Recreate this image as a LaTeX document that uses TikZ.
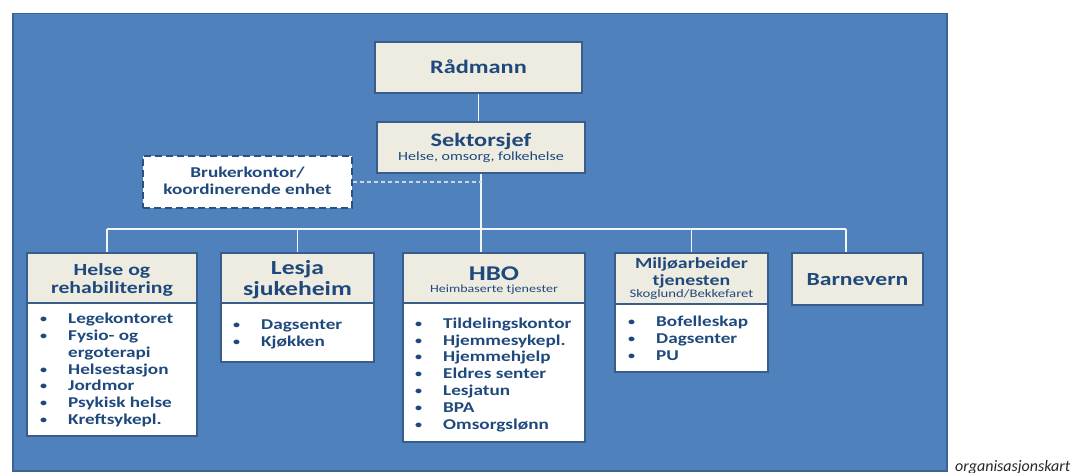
\documentclass[tikz,border=0pt]{standalone}
\usepackage{fontspec}
\setmainfont{Carlito}[FakeStretch=1.28, UprightFont=*, BoldFont=* Bold, ItalicFont=* Italic]
\newfontfamily\capfont{Carlito}[ItalicFont=* Italic]
\definecolor{panel}{HTML}{4F81BD}
\definecolor{panelborder}{HTML}{3A6496}
\definecolor{beige}{HTML}{EEECE1}
\definecolor{boxborder}{HTML}{385D8A}
\definecolor{dashborder}{HTML}{2E5080}
\definecolor{txt}{HTML}{1F497D}
\definecolor{connc}{HTML}{F2F5FA}
\definecolor{dashc}{HTML}{C9D6E8}
\newcommand\bul{\makebox[28pt][l]{\raisebox{1pt}{\fontsize{11}{11}\selectfont\textbullet}}}
\begin{document}
\begin{tikzpicture}[x=1pt,y=-1pt,
  hdr/.style={draw=boxborder, line width=2pt, fill=beige, inner sep=0pt},
  lst/.style={draw=boxborder, line width=2pt, fill=white, inner sep=0pt},
  ttl/.style={text=txt, align=center, anchor=base, inner sep=0pt},
  items/.style={text=txt, font=\bfseries\fontsize{15}{16.8}\selectfont, align=left, anchor=base west, inner sep=0pt},
  conn/.style={draw=connc, line width=1.6pt},
  dashconn/.style={draw=dashc, line width=1.3pt, dash pattern=on 4pt off 3pt}
]
\useasboundingbox (0,0) rectangle (1071,473);
\node[fill=panel, draw=panelborder, line width=1.5pt, minimum width=934pt, minimum height=457pt, anchor=north west, inner sep=0pt] (panel) at (12,13) {};

% top boxes
\node[hdr, minimum width=207pt, minimum height=51pt] (rad) at (478.5,67.5) {};
\node[ttl, font=\bfseries\fontsize{19}{22}\selectfont] (radt) at (478.5,74) {Rådmann};
\node[hdr, minimum width=208pt, minimum height=51pt] (sek) at (481,147.5) {};
\node[ttl, font=\bfseries\fontsize{19}{22}\selectfont] (sekt) at (481,147) {Sektorsjef};
\node[ttl, font=\fontsize{12.5}{15}\selectfont] (seks) at (481,161) {Helse, omsorg, folkehelse};
\node[draw=dashborder, line width=2.5pt, dash pattern=on 7pt off 4pt, fill=white, inner sep=0pt,
  minimum width=209pt, minimum height=52pt] (bru) at (247.5,182) {};
\node[ttl, font=\bfseries\fontsize{15}{17}\selectfont] (brut) at (247.5,195) {Brukerkontor/\\koordinerende enhet};

% header boxes
\node[hdr, minimum width=170pt, minimum height=50pt] (hel) at (112,278) {};
\node[ttl, font=\bfseries\fontsize{17}{18.3}\selectfont] (helt) at (112,293.3) {Helse og\\rehabilitering};
\node[lst, minimum width=170pt, minimum height=133pt] (hellist) at (112,369.5) {};
\node[hdr, minimum width=153pt, minimum height=50pt] (les) at (297.5,278) {};
\node[ttl, font=\bfseries\fontsize{20}{20.7}\selectfont] (lest) at (297.5,295) {Lesja\\sjukeheim};
\node[lst, minimum width=153pt, minimum height=59pt] (leslist) at (297.5,332.5) {};
\node[hdr, minimum width=182pt, minimum height=50pt] (hbo) at (494,278) {};
\node[ttl, font=\bfseries\fontsize{21}{24}\selectfont] (hbot) at (494,280) {HBO};
\node[ttl, font=\fontsize{11}{13}\selectfont] (hbos) at (494,292.7) {Heimbaserte tjenester};
\node[lst, minimum width=182pt, minimum height=139pt] (hbolist) at (494,372.5) {};
\node[hdr, minimum width=153pt, minimum height=51pt] (mil) at (691.5,278.5) {};
\node[ttl, font=\bfseries\fontsize{15.5}{16.7}\selectfont] (milt) at (691.5,285) {Miljøarbeider\\tjenesten};
\node[ttl, font=\fontsize{11.5}{13}\selectfont] (mils) at (691.5,298) {Skoglund/Bekkefaret};
\node[lst, minimum width=153pt, minimum height=68pt] (millist) at (691.5,338) {};
\node[hdr, minimum width=131pt, minimum height=52pt] (bar) at (857.5,279) {};
\node[ttl, font=\bfseries\fontsize{18.5}{20}\selectfont] (bart) at (857.5,285.7) {Barnevern};

% list texts (anchored at the baseline of the last line)
\node[items] (helitems) at (40,424.5) {\bul Legekontoret\\\bul Fysio- og\\\hspace*{28pt}ergoterapi\\\bul Helsestasjon\\\bul Jordmor\\\bul Psykisk helse\\\bul Kreftsykepl.};
\node[items] (lesitems) at (233,346) {\bul Dagsenter\\\bul Kjøkken};
\node[items] (hboitems) at (415,429) {\bul Tildelingskontor\\\bul Hjemmesykepl.\\\bul Hjemmehjelp\\\bul Eldres senter\\\bul Lesjatun\\\bul BPA\\\bul Omsorgslønn};
\node[items] (militems) at (628,360.3) {\bul Bofelleskap\\\bul Dagsenter\\\bul PU};

% connectors
\coordinate (busL) at (107,229);
\coordinate (busR) at (846,229);
\draw[conn] (rad.south) -- (rad.south |- sek.north);
\draw[conn] (sek.south) -- (sek.south |- hbo.north);
\draw[conn] (busL) -- (busR);
\draw[conn] (busL) -- (busL |- hel.north);
\draw[conn] (les.north |- busL) -- (les.north);
\draw[conn] (mil.north |- busL) -- (mil.north);
\draw[conn] (busR) -- (busR |- bar.north);
\draw[dashconn] (bru.east) -- (bru.east -| sek.south);

\node[anchor=base west, inner sep=0pt, font=\capfont\itshape\fontsize{16}{18}\selectfont, text=black!85] (cap) at (955,471) {organisasjonskart};
\end{tikzpicture}
\end{document}
